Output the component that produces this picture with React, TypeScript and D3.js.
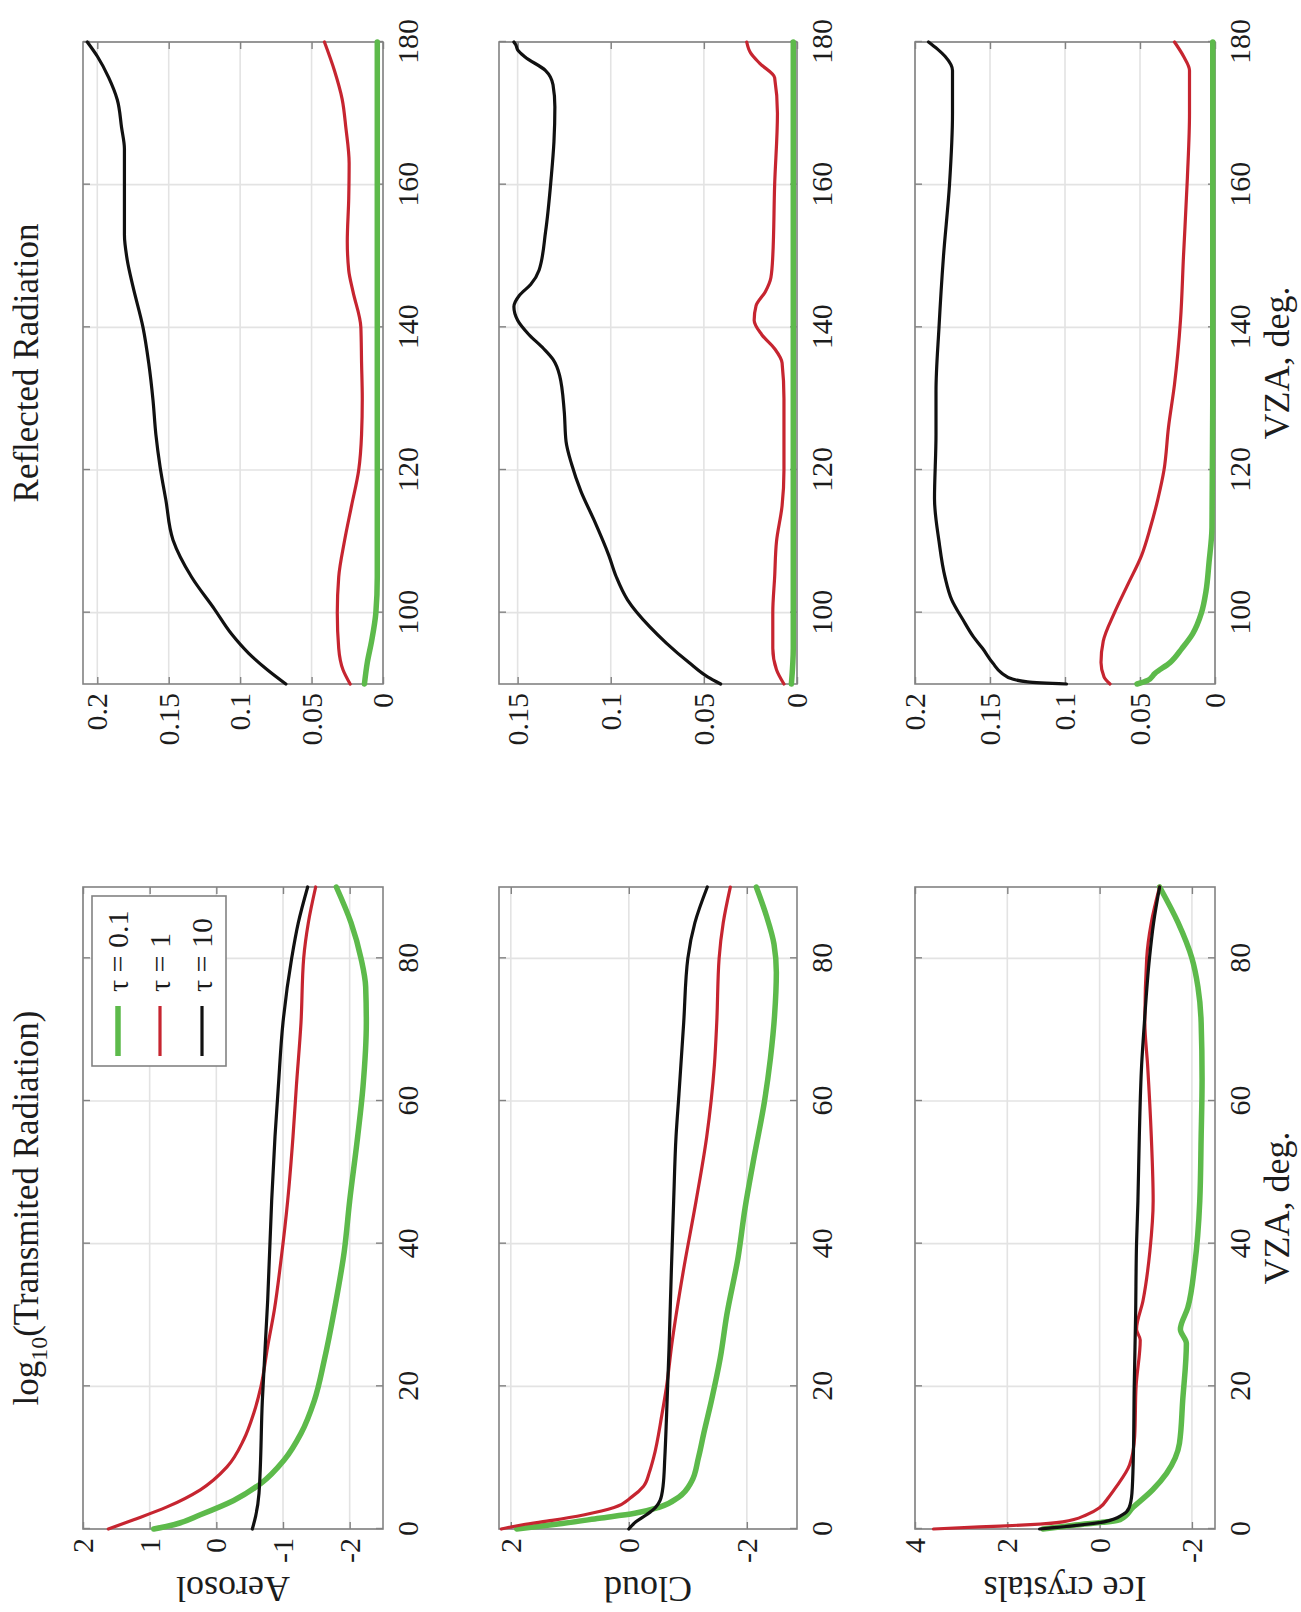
import React, { useEffect, useRef } from "react";
import * as d3 from "d3";

// The figure is laid out in its natural (landscape) orientation and then
// turned 90deg counter-clockwise, as in the reference page.
const figW = 1612;
const figH = 1301;

// Labels
const rowNames = ["Aerosol", "Cloud", "Ice crystals"];
const tauLabels = ["τ = 0.1", "τ = 1", "τ = 10"];

// Axis ticks / limits
const vzaTicksT = [0, 20, 40, 60, 80];
const vzaTicksR = [100, 120, 140, 160, 180];
const yDomT = [[-2.5, 2], [-2.85, 2.2], [-2.5, 4]];
const yTicksT = [[-2, -1, 0, 1, 2], [-2, 0, 2], [-2, 0, 2, 4]];
const yDomR = [[0, 0.21], [0, 0.16], [0, 0.2]];
const yTicksR = [[0, 0.05, 0.1, 0.15, 0.2], [0, 0.05, 0.1, 0.15], [0, 0.05, 0.1, 0.15, 0.2]];

// ---- Transmitted: log10 values vs VZA (0..90) ----
const aerosolTGreen = [[0, 0.94], [0.6, 0.64], [2, 0.24], [4, -0.26], [6.4, -0.67], [9.7, -1.02], [13.4, -1.27], [18, -1.47], [23.7, -1.62], [30.7, -1.77], [39, -1.92], [46, -2.0], [55, -2.12], [62, -2.2], [71, -2.25], [76, -2.24], [80, -2.17], [85, -2.02], [90, -1.8]];
const aerosolTRed = [[0, 1.62], [1.3, 1.24], [3.1, 0.74], [5.5, 0.24], [8.7, -0.16], [12.5, -0.41], [16.2, -0.56], [20, -0.67], [25.6, -0.77], [30.7, -0.87], [37.7, -0.97], [46, -1.07], [55, -1.15], [62, -1.2], [71, -1.27], [80, -1.31], [85, -1.38], [90, -1.49]];
const aerosolTBlack = [[0, -0.54], [1.8, -0.59], [5, -0.64], [18, -0.69], [32, -0.77], [46, -0.83], [55, -0.88], [62, -0.93], [71, -1.0], [80, -1.13], [85, -1.23], [90, -1.37]];

const cloudTGreen = [[0, 1.9], [0.7, 1.2], [1.5, 0.5], [2.2, -0.1], [3, -0.5], [4.5, -0.85], [6.6, -1.06], [10, -1.18], [13.4, -1.27], [18, -1.4], [24, -1.55], [30, -1.66], [38, -1.85], [45, -1.97], [52, -2.12], [60, -2.3], [66, -2.4], [72, -2.47], [78, -2.5], [82, -2.46], [86, -2.33], [90, -2.16]];
const cloudTRed = [[0, 2.16], [0.6, 1.8], [1.2, 1.3], [2, 0.75], [3, 0.25], [4.5, -0.05], [6, -0.25], [8, -0.35], [10, -0.42], [16, -0.56], [20, -0.64], [26, -0.73], [36, -0.92], [46, -1.14], [55, -1.32], [65, -1.45], [71, -1.49], [80, -1.53], [85, -1.6], [90, -1.72]];
const cloudTBlack = [[0, 0.0], [1, -0.12], [2, -0.3], [3, -0.45], [4, -0.53], [6, -0.58], [10, -0.61], [16, -0.64], [25, -0.68], [36, -0.72], [46, -0.76], [55, -0.8], [61, -0.85], [71, -0.93], [80, -1.0], [85, -1.12], [90, -1.33]];

const iceTGreen = [[0, 1.23], [0.5, 0.6], [1.3, -0.44], [3, -0.72], [5.5, -1.15], [7.8, -1.45], [12, -1.73], [18, -1.8], [26, -1.88], [28, -1.75], [31, -1.91], [37, -2.06], [46, -2.17], [55, -2.2], [63, -2.22], [71, -2.2], [76, -2.13], [80, -2.0], [85, -1.7], [90, -1.3]];
const iceTRed = [[0, 3.6], [0.3, 2.6], [0.6, 1.5], [1, 0.8], [2, 0.28], [3, 0.0], [4.5, -0.2], [6, -0.37], [9, -0.65], [13, -0.76], [20, -0.79], [26.5, -0.88], [28, -0.8], [32, -0.94], [39, -1.09], [46, -1.16], [55, -1.12], [65, -1.04], [71, -0.98], [80, -1.02], [85, -1.12], [90, -1.3]];
const iceTBlack = [[0, 1.3], [0.5, 0.5], [1, -0.1], [2, -0.5], [3, -0.64], [5, -0.7], [10, -0.73], [20, -0.75], [30, -0.78], [40, -0.8], [46, -0.83], [55, -0.86], [65, -0.91], [71, -0.97], [80, -1.08], [85, -1.17], [90, -1.3]];

// ---- Reflected: values vs VZA (90..180) ----
const aerosolRGreen = [[90, 0.013], [93, 0.011], [96, 0.008], [100, 0.005], [105, 0.004], [120, 0.004], [140, 0.004], [160, 0.004], [180, 0.004]];
const aerosolRRed = [[90, 0.023], [92, 0.028], [95, 0.031], [100, 0.032], [105, 0.031], [110, 0.027], [115, 0.022], [120, 0.017], [125, 0.015], [130, 0.0145], [135, 0.015], [140, 0.0155], [145, 0.021], [148, 0.024], [152, 0.025], [158, 0.024], [163, 0.0237], [168, 0.026], [172, 0.0286], [176, 0.034], [180, 0.041]];
const aerosolRBlack = [[90, 0.068], [92, 0.081], [94.3, 0.094], [97, 0.106], [100.5, 0.118], [105, 0.134], [110.2, 0.147], [115.8, 0.152], [120.4, 0.156], [125, 0.159], [129.8, 0.161], [135, 0.164], [140, 0.168], [145.7, 0.175], [149.4, 0.179], [153, 0.181], [158, 0.181], [165, 0.181], [168, 0.183], [171.9, 0.186], [175, 0.192], [178, 0.2], [180, 0.207]];

const cloudRGreen = [[90, 0.003], [95, 0.002], [120, 0.002], [150, 0.002], [180, 0.002]];
const cloudRRed = [[90, 0.007], [92, 0.011], [95, 0.013], [100, 0.013], [105, 0.012], [110, 0.011], [115, 0.008], [120, 0.007], [125, 0.007], [130, 0.007], [135, 0.008], [137, 0.012], [139, 0.019], [141, 0.023], [143, 0.022], [145, 0.017], [147, 0.014], [150, 0.013], [160, 0.012], [170, 0.0105], [175, 0.012], [177, 0.02], [178.5, 0.025], [180, 0.027]];
const cloudRBlack = [[90, 0.041], [91, 0.048], [93, 0.058], [95.7, 0.07], [98, 0.079], [101.8, 0.091], [105, 0.097], [108, 0.101], [113, 0.109], [117, 0.116], [120.8, 0.121], [124, 0.124], [128.3, 0.125], [133.3, 0.1275], [135.5, 0.131], [137, 0.136], [139, 0.144], [141, 0.15], [142.9, 0.152], [144.5, 0.149], [146, 0.143], [148, 0.1385], [153.4, 0.135], [160.9, 0.132], [166, 0.1305], [170.9, 0.13], [174, 0.131], [176, 0.135], [177.9, 0.146], [178.9, 0.15], [179.6, 0.151], [180, 0.152]];

const iceRGreen = [[90, 0.052], [90.5, 0.045], [91.5, 0.04], [93, 0.03], [95, 0.022], [97, 0.015], [100, 0.009], [103, 0.006], [107, 0.004], [112, 0.002], [130, 0.0015], [180, 0.0015]];
const iceRRed = [[90, 0.07], [91, 0.074], [93, 0.076], [96, 0.0745], [100, 0.067], [104, 0.058], [108, 0.049], [112, 0.043], [116, 0.038], [120, 0.034], [126, 0.031], [132, 0.027], [141, 0.023], [150, 0.021], [161, 0.0184], [170, 0.017], [176, 0.017], [178, 0.021], [180, 0.027]];
const iceRBlack = [[90, 0.099], [90.3, 0.125], [90.7, 0.135], [91.5, 0.142], [92.9, 0.148], [95, 0.155], [96.6, 0.161], [99, 0.168], [101.8, 0.1755], [105, 0.18], [110, 0.184], [116, 0.187], [125, 0.186], [131, 0.186], [140, 0.184], [150, 0.181], [160, 0.177], [170, 0.175], [176, 0.175], [178, 0.18], [179, 0.185], [180, 0.191]];

const transSeries = [
  [aerosolTGreen, aerosolTRed, aerosolTBlack],
  [cloudTGreen, cloudTRed, cloudTBlack],
  [iceTGreen, iceTRed, iceTBlack],
];
const reflSeries = [
  [aerosolRGreen, aerosolRRed, aerosolRBlack],
  [cloudRGreen, cloudRRed, cloudRBlack],
  [iceRGreen, iceRRed, iceRBlack],
];

// styles
const lineColors = ["#5dba4b", "#c62530", "#111111"];
const lineWidths = [5.5, 3.2, 3.2];
const gridColor = "#e3e3e3";
const boxColor = "#828282";
const textColor = "#1c1c1c";
const font = "'Liberation Serif', 'Times New Roman', serif";

export default function App() {
  const gRef = useRef(null);

  useEffect(() => {
    const root = d3.select(gRef.current);
    root.selectAll("*").remove();

    // panel frames in the unrotated figure
    const colsX = [[83, 725], [928, 1570]];
    const rowsY = [[83, 383], [499, 797], [915, 1215]];

    rowsY.forEach((ry, r) => {
      colsX.forEach((cx, c) => {
        const isT = c === 0;
        const x = d3.scaleLinear().domain(isT ? [0, 90] : [90, 180]).range(cx);
        const y = d3.scaleLinear().domain(isT ? yDomT[r] : yDomR[r]).range([ry[1], ry[0]]);
        const xt = isT ? vzaTicksT : vzaTicksR;
        const yt = isT ? yTicksT[r] : yTicksR[r];
        const g = root.append("g");

        // grid
        g.selectAll(".gx").data(xt).enter().append("line")
          .attr("x1", d => x(d)).attr("x2", d => x(d))
          .attr("y1", ry[0]).attr("y2", ry[1])
          .attr("stroke", gridColor).attr("stroke-width", 1.6);
        g.selectAll(".gy").data(yt).enter().append("line")
          .attr("x1", cx[0]).attr("x2", cx[1])
          .attr("y1", d => y(d)).attr("y2", d => y(d))
          .attr("stroke", gridColor).attr("stroke-width", 1.6);

        // axes with inward ticks on all four sides
        const styleAxis = (sel) => {
          sel.select(".domain").remove();
          sel.selectAll(".tick line").attr("stroke", boxColor).attr("stroke-width", 1.4);
          sel.selectAll("text").attr("fill", textColor)
            .attr("font-size", 30).attr("font-family", font);
        };
        g.append("g").attr("transform", `translate(0,${ry[1]})`)
          .call(d3.axisBottom(x).tickValues(xt).tickSizeInner(-7).tickSizeOuter(0)
            .tickPadding(14).tickFormat(d => String(d)))
          .call(styleAxis);
        g.append("g").attr("transform", `translate(0,${ry[0]})`)
          .call(d3.axisTop(x).tickValues(xt).tickSizeInner(-7).tickSizeOuter(0).tickFormat(() => ""))
          .call(styleAxis);
        g.append("g").attr("transform", `translate(${cx[0]},0)`)
          .call(d3.axisLeft(y).tickValues(yt).tickSizeInner(-7).tickSizeOuter(0)
            .tickPadding(9).tickFormat(d => String(d)))
          .call(styleAxis);
        g.append("g").attr("transform", `translate(${cx[1]},0)`)
          .call(d3.axisRight(y).tickValues(yt).tickSizeInner(-7).tickSizeOuter(0).tickFormat(() => ""))
          .call(styleAxis);

        // box
        g.append("rect")
          .attr("x", cx[0]).attr("y", ry[0])
          .attr("width", cx[1] - cx[0]).attr("height", ry[1] - ry[0])
          .attr("fill", "none").attr("stroke", boxColor).attr("stroke-width", 1.6);

        // curves
        const line = d3.line().x(d => x(d[0])).y(d => y(d[1])).curve(d3.curveMonotoneX);
        const series = isT ? transSeries[r] : reflSeries[r];
        series.forEach((s, i) => {
          g.append("path").datum(s)
            .attr("d", line)
            .attr("fill", "none")
            .attr("stroke", lineColors[i])
            .attr("stroke-width", lineWidths[i])
            .attr("stroke-linejoin", "round")
            .attr("stroke-linecap", "round");
        });

        // row label on the left column only
        if (isT) {
          g.append("text")
            .attr("transform", `translate(35,${(ry[0] + ry[1]) / 2}) rotate(-90)`)
            .attr("text-anchor", "middle")
            .attr("font-family", font).attr("font-size", 36).attr("fill", textColor)
            .text(rowNames[r]);
        }

        // x label on bottom row
        if (r === 2) {
          g.append("text")
            .attr("x", (cx[0] + cx[1]) / 2).attr("y", 1289)
            .attr("text-anchor", "middle")
            .attr("font-family", font).attr("font-size", 36).attr("fill", textColor)
            .text("VZA, deg.");
        }

        // legend in the first panel
        if (isT && r === 0) {
          const lg = g.append("g");
          lg.append("rect")
            .attr("x", 546).attr("y", 92).attr("width", 170).attr("height", 134)
            .attr("fill", "#fff").attr("stroke", boxColor).attr("stroke-width", 1.6);
          tauLabels.forEach((lab, i) => {
            const yy = 118 + i * 42;
            lg.append("line")
              .attr("x1", 556).attr("x2", 606).attr("y1", yy).attr("y2", yy)
              .attr("stroke", lineColors[i]).attr("stroke-width", lineWidths[i]);
            lg.append("text")
              .attr("x", 620).attr("y", yy + 10)
              .attr("font-family", font).attr("font-size", 30).attr("fill", textColor)
              .text(lab);
          });
        }
      });
    });

    // column titles
    const t1 = root.append("text")
      .attr("x", 404).attr("y", 38).attr("text-anchor", "middle")
      .attr("font-family", font).attr("font-size", 35).attr("fill", textColor);
    t1.append("tspan").text("log");
    t1.append("tspan").attr("dy", 9).attr("font-size", 24).text("10");
    t1.append("tspan").attr("dy", -9).text("(Transmited Radiation)");

    root.append("text")
      .attr("x", 1249).attr("y", 38).attr("text-anchor", "middle")
      .attr("font-family", font).attr("font-size", 35).attr("fill", textColor)
      .text("Reflected Radiation");
  }, []);

  return (
    <svg
      width={figH}
      height={figW}
      style={{ position: "absolute", left: 0, top: 0, background: "#fff" }}
    >
      <rect x={0} y={0} width={figH} height={figW} fill="#fff" />
      <g ref={gRef} transform={`translate(0,${figW}) rotate(-90)`} />
    </svg>
  );
}
